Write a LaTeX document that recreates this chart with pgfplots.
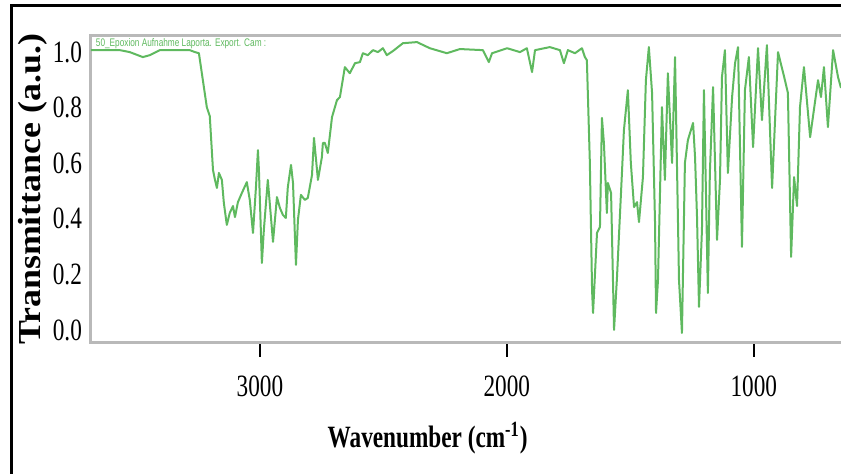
\documentclass[border=0pt]{standalone}
\usepackage{pgfplots}
\pgfplotsset{compat=1.18}
\usepackage{fontspec}
\setmainfont{Liberation Serif}
\newfontfamily\condserif[FakeStretch=0.75]{Liberation Serif}
\newfontfamily\wideserif[FakeStretch=1.12]{Liberation Serif}
\newfontfamily\condsans[FakeStretch=0.75]{Liberation Sans}
\definecolor{spec}{RGB}{95,185,95}
\pgfplotstableread{
wn T
3684 1.007
3648 1.007
3567 1.007
3527 1.000
3474 0.982
3446 0.989
3405 1.007
3344 1.007
3284 1.007
3263 1.000
3247 0.996
3231 0.899
3215 0.802
3203 0.770
3190 0.576
3182 0.540
3174 0.511
3166 0.565
3154 0.540
3146 0.457
3134 0.378
3122 0.421
3109 0.446
3101 0.406
3089 0.460
3073 0.493
3053 0.532
3041 0.468
3028 0.349
3016 0.514
3008 0.647
3004 0.576
2992 0.241
2984 0.360
2968 0.540
2951 0.360
2947 0.317
2931 0.478
2919 0.439
2907 0.414
2895 0.403
2887 0.514
2874 0.594
2866 0.529
2854 0.234
2846 0.396
2834 0.486
2818 0.468
2806 0.475
2789 0.558
2781 0.691
2765 0.540
2749 0.622
2745 0.673
2737 0.673
2725 0.637
2708 0.766
2688 0.827
2676 0.838
2656 0.946
2636 0.924
2615 0.960
2595 0.964
2583 0.996
2563 0.989
2542 1.007
2522 1.000
2502 1.014
2486 0.989
2461 1.004
2421 1.032
2364 1.036
2312 1.014
2243 0.996
2190 1.011
2097 1.007
2073 0.964
2060 0.996
1999 1.014
1947 1.000
1919 1.014
1898 0.928
1886 1.007
1826 1.018
1785 1.007
1769 0.960
1753 1.007
1724 0.996
1696 1.014
1684 0.982
1676 0.971
1664 0.604
1655 0.144
1651 0.061
1635 0.349
1623 0.371
1615 0.763
1607 0.673
1595 0.421
1591 0.529
1578 0.493
1566 0.000
1554 0.191
1534 0.565
1526 0.719
1510 0.863
1498 0.601
1485 0.442
1473 0.460
1465 0.388
1449 0.550
1437 0.899
1425 1.018
1412 0.853
1400 0.385
1396 0.061
1388 0.180
1372 0.802
1360 0.540
1348 0.924
1331 0.601
1319 0.982
1307 0.385
1303 0.180
1291 -0.011
1279 0.601
1267 0.683
1246 0.745
1238 0.622
1230 0.406
1222 0.083
1210 0.360
1202 0.863
1194 0.504
1186 0.133
1178 0.565
1165 0.874
1149 0.324
1137 0.540
1129 0.910
1117 1.007
1105 0.565
1088 0.838
1076 0.960
1064 1.018
1048 0.299
1036 0.863
1020 0.982
1003 0.658
983 1.014
967 0.755
947 1.025
926 0.511
902 1.000
874 0.899
862 0.853
849 0.263
837 0.550
825 0.446
813 0.802
797 0.946
772 0.694
740 0.899
728 0.838
716 0.946
700 0.730
679 1.007
659 0.910
647 0.871
}\spectrum
\begin{document}
\begin{tikzpicture}
\useasboundingbox (0,0) rectangle (420.5pt,237pt);
\draw[line width=1.5pt, black] (5.5pt,-5pt) -- (5.5pt,234pt) -- (430pt,234pt);
\begin{axis}[
  at={(45.5pt,65.5pt)}, anchor=south west,
  scale only axis, width=380pt, height=153.5pt,
  x dir=reverse,
  xmin=606.5, xmax=3684, ymin=-0.047, ymax=1.058,
  axis line style={gray!55, line width=1.5pt},
  xtick={1000,2000,3000}, xticklabels={1000,2000,3000},
  ytick={0,0.2,0.4,0.6,0.8,1.0}, yticklabels={0.0,0.2,0.4,0.6,0.8,1.0},
  scaled ticks=false,
  xtick pos=bottom, ytick pos=left,
  tick align=outside,
  major tick length=7pt,
  xtick style={black, line width=0.8pt},
  ytick style={draw=none},
  xticklabel style={font=\condserif\fontsize{15.5}{16}\selectfont, yshift=-6pt},
  yticklabel style={font=\condserif\fontsize{15.5}{16}\selectfont, xshift=6pt},
  xlabel={Wavenumber (cm\textsuperscript{-1})},
  xlabel style={font=\condserif\bfseries\fontsize{15.5}{16}\selectfont, at={(axis description cs:0.4429,0)}, anchor=center, yshift=-47.5pt},
  ylabel={Transmittance (a.u.)},
  ylabel style={font=\wideserif\bfseries\fontsize{16}{17}\selectfont, at={(axis description cs:-0.0763,0.5)}, anchor=center},
]
\addplot[spec, line width=1pt, line join=round] table[x=wn, y=T] {\spectrum};
\node[anchor=west, text=spec, font=\condsans\fontsize{5.5}{6}\selectfont, inner sep=0pt] at (axis description cs:0.006,0.974) {50\_Epoxion Aufnahme Laporta. Export. Cam :};
\end{axis}
\end{tikzpicture}
\end{document}
